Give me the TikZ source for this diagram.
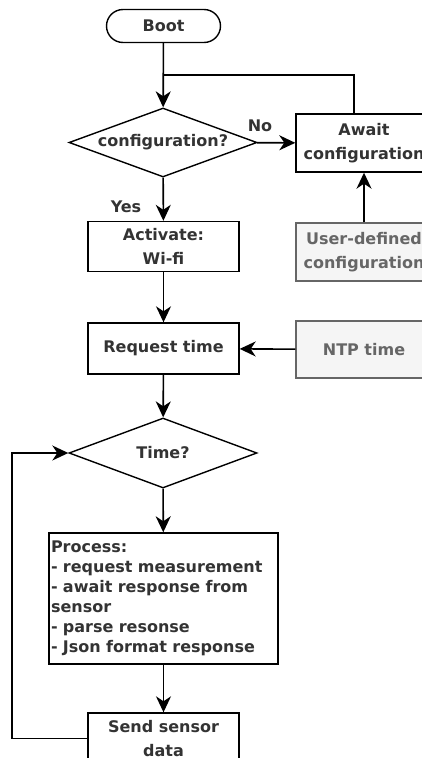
\documentclass[tikz,border=0pt]{standalone}
\usepackage{fontspec}
\setmainfont{DejaVu Sans}
\usepackage{xcolor}
\usetikzlibrary{shapes.geometric, positioning, arrows.meta}
\definecolor{txtdark}{HTML}{333333}
\definecolor{extgray}{HTML}{666666}
\definecolor{extfill}{HTML}{F5F5F5}
\tikzset{
  flow/.style={line width=1.6pt, -{Stealth[length=16pt,width=15pt,inset=5pt]}},
  wire/.style={line width=1.6pt},
  txt/.style={font=\fontsize{16}{24}\selectfont\bfseries, text=txtdark},
  startstop/.style={txt, draw, line width=1.4pt, rectangle, rounded corners=16.5pt, minimum width=114pt, minimum height=33pt},
  procbox/.style={txt, draw, line width=1.4pt, rectangle, align=center, minimum width=151pt, minimum height=50pt},
  extbox/.style={txt, draw=extgray, fill=extfill, text=extgray, line width=1.4pt, rectangle, align=center, minimum width=136pt, minimum height=58pt},
  decision/.style={txt, draw, line width=1.4pt, diamond, aspect=2.7, inner sep=0pt, minimum width=188pt, minimum height=69pt}
}

\begin{document}
\begin{tikzpicture}[x=1pt, y=-1pt]
  \clip (0,0) rectangle (422,758);
  % main column
  \node[startstop] (boot) at (163.5,26) {Boot};
  \node[decision] (cfg) at (163,142.5) {configuration?};
  \node[procbox] (wifi) at (163.5,246.5) {Activate:\\Wi-fi};
  \node[procbox, minimum height=51pt] (reqt) at (163.5,348.5) {Request time};
  \node[decision, minimum height=70pt] (time) at (163,453) {Time?};
  \node[txt, draw, line width=1.4pt, rectangle, align=left, text width=225pt, inner xsep=2pt,
        minimum height=131pt, font=\fontsize{16}{20}\selectfont\bfseries] (proc) at (163.5,598.5)
       {Process:\\- request measurement\\- await response from\\sensor\\- parse resonse\\- Json format response};
  \node[procbox, minimum height=51pt] (send) at (163.5,738.5) {Send sensor\\data};
  % right column
  \node[procbox, minimum width=136pt, minimum height=58pt] (await) at (364,143) {Await\\configuration};
  \node[extbox] (user) at (364,252) {User-defined\\configuration};
  \node[extbox, minimum height=57pt] (ntp) at (364,349.5) {NTP time};
  % labels
  \node[txt] (nolbl) at (260,126) {No};
  \node[txt] (yeslbl) at (126,207) {Yes};
  \coordinate (join) at (163,75);
  \coordinate (loopx) at (12,0);

  \draw[flow] (boot) -- (cfg);
  \draw[wire] ([xshift=-10pt]await.north) |- (join);
  \draw[flow] (cfg) -- (await);
  \draw[flow] (user) -- (await);
  \draw[flow] (cfg) -- (wifi);
  \draw[flow] (wifi) -- (reqt);
  \draw[flow] (ntp) -- (reqt);
  \draw[flow] (reqt) -- (time);
  \draw[flow] (time) -- (proc);
  \draw[flow] (proc) -- (send);
  \draw[flow] (send.west) -- (send.west -| loopx) |- (time.west);
\end{tikzpicture}
\end{document}
